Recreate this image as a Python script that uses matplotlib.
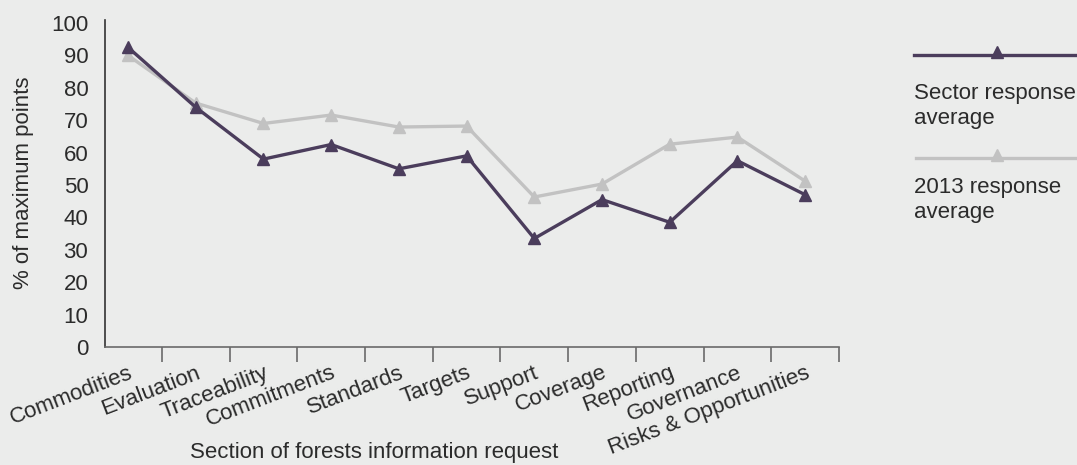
import matplotlib
matplotlib.use("Agg")
import matplotlib.pyplot as plt
from matplotlib.lines import Line2D
import numpy as np

# Data
sections = ["Commodities", "Evaluation", "Traceability", "Commitments", "Standards",
            "Targets", "Support", "Coverage", "Reporting", "Governance",
            "Risks & Opportunities"]
sector_avg = [92.5, 74, 58, 62.5, 55, 59, 33.5, 45.5, 38.5, 57.5, 47]
avg_2013 = [90, 75.3, 69, 71.6, 67.9, 68.2, 46.3, 50.3, 62.6, 64.8, 51.2]

# Style
bg = "#ebeceb"
purple = "#4b3d5c"
grey = "#c2c2c2"
txt = "#2b2b2b"
fs = 16
plt.rcParams["font.family"] = ["Liberation Sans", "DejaVu Sans"]
plt.rcParams["font.size"] = fs

fig = plt.figure(figsize=(10.77, 4.65), dpi=100, facecolor=bg)
ax = fig.add_axes([105 / 1077, 1 - 347 / 465, (839 - 105) / 1077, (347 - 19.8) / 465])
ax.set_facecolor(bg)

x = np.arange(len(sections))
ax.plot(x, avg_2013, color=grey, lw=2.4, marker="^", ms=9, zorder=2)
ax.plot(x, sector_avg, color=purple, lw=2.4, marker="^", ms=9, zorder=3)

ax.set_xlim(-0.34, 10.5)
ax.set_ylim(0, 101)
ax.set_yticks(range(0, 101, 10))
ax.tick_params(axis="y", length=0, pad=12, labelsize=fs, labelcolor=txt)

# category labels at centres, tick marks at boundaries
ax.set_xticks(x)
ax.set_xticklabels(sections, rotation=21, ha="right", rotation_mode="anchor")
ax.tick_params(axis="x", which="major", length=0, pad=11, labelsize=fs, labelcolor=txt)
ax.set_xticks(x + 0.5, minor=True)
ax.tick_params(axis="x", which="minor", length=11, width=1.2, color="#6a6a6a", direction="out")

for s in ["top", "right"]:
    ax.spines[s].set_visible(False)
ax.spines["left"].set_color("#333333")
ax.spines["left"].set_linewidth(1.2)
ax.spines["bottom"].set_color("#6a6a6a")
ax.spines["bottom"].set_linewidth(1.2)

fig.text(24 / 1077, 1 - 183 / 465, "% of maximum points", rotation=90,
         ha="center", va="center", color=txt, fontsize=fs)
fig.text(374 / 1077, 1 - 452 / 465, "Section of forests information request",
         ha="center", va="center", color=txt, fontsize=fs)

# legend on the right
W, H = 1077, 465
fig.add_artist(Line2D([914 / W, 1077 / W], [1 - 55 / H, 1 - 55 / H], color=purple, lw=2.4))
fig.add_artist(Line2D([997 / W], [1 - 52 / H], color=purple, marker="^", ms=9, lw=0))
fig.text(914 / W, 1 - 106 / H, "Sector response\naverage", ha="left", va="center",
         color=txt, fontsize=fs, linespacing=1.25)
fig.add_artist(Line2D([916 / W, 1075 / W], [1 - 158 / H, 1 - 158 / H], color=grey, lw=2.4))
fig.add_artist(Line2D([997 / W], [1 - 155 / H], color=grey, marker="^", ms=9, lw=0))
fig.text(914 / W, 1 - 200 / H, "2013 response\naverage", ha="left", va="center",
         color=txt, fontsize=fs, linespacing=1.25)

fig.savefig("out.png", dpi=100, facecolor=bg)
